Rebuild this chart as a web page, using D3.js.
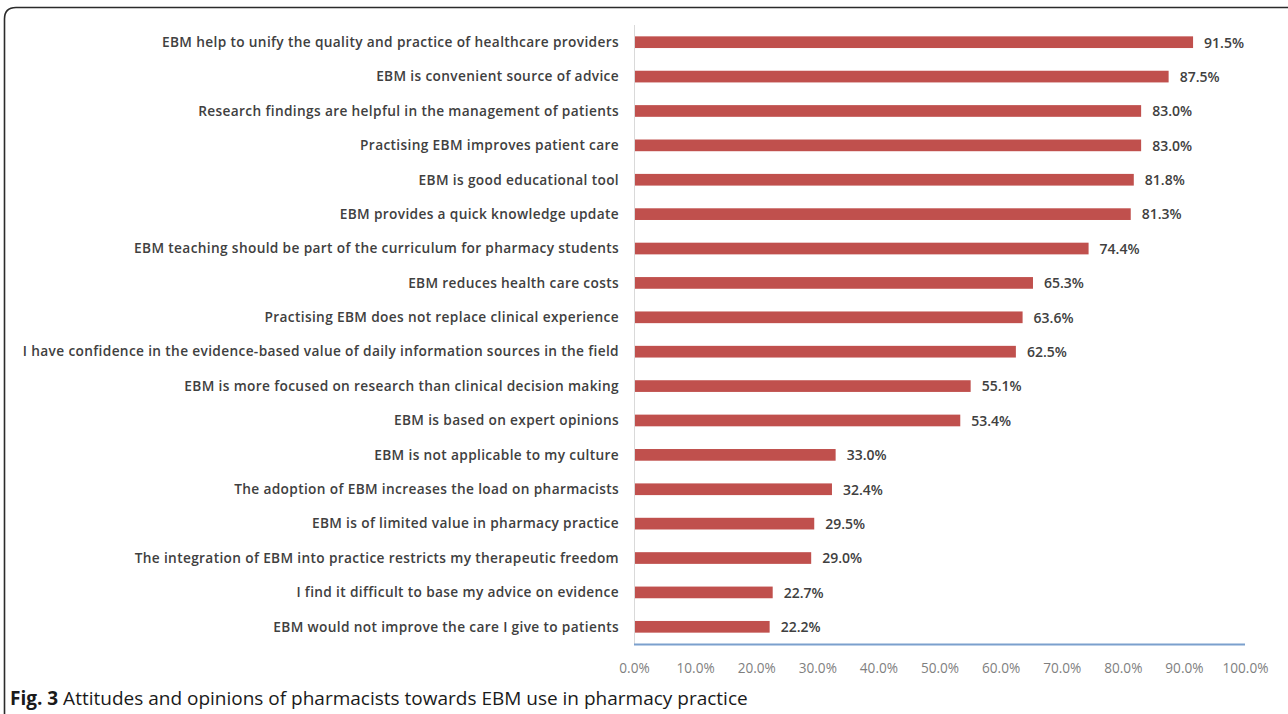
<!DOCTYPE html>
<html>
<head>
<meta charset="utf-8">
<script src="https://cdn.jsdelivr.net/npm/d3@7"></script>
<style>
  html, body { margin: 0; padding: 0; background: #fff; }
  svg { display: block; }
</style>
</head>
<body>
<svg id="chart" width="1288" height="714"></svg>
<script>
const categories = [
  "EBM help to unify the quality and practice of healthcare providers",
  "EBM is convenient source of advice",
  "Research findings are helpful in the management of patients",
  "Practising EBM improves patient care",
  "EBM is good educational tool",
  "EBM provides a quick knowledge update",
  "EBM teaching should be part of the curriculum for pharmacy students",
  "EBM reduces health care costs",
  "Practising EBM does not replace clinical experience",
  "I have confidence in the evidence-based value of daily information sources in the field",
  "EBM is more focused on research than clinical decision making",
  "EBM is based on expert opinions",
  "EBM is not applicable to my culture",
  "The adoption of EBM increases the load on pharmacists",
  "EBM is of limited value in pharmacy practice",
  "The integration of EBM into practice restricts my therapeutic freedom",
  "I find it difficult to base my advice on evidence",
  "EBM would not improve the care I give to patients"
];
const values = [91.5, 87.5, 83.0, 83.0, 81.8, 81.3, 74.4, 65.3, 63.6, 62.5, 55.1, 53.4, 33.0, 32.4, 29.5, 29.0, 22.7, 22.2];
const tickValues = [0, 10, 20, 30, 40, 50, 60, 70, 80, 90, 100];
const captionBold = "Fig. 3";
const captionText = " Attitudes and opinions of pharmacists towards EBM use in pharmacy practice";

const svg = d3.select("#chart");

// outer frame (open on right and bottom)
svg.append("path")
  .attr("d", "M4.5,714 L4.5,19 Q4.5,7.5 16,7.5 L1300,7.5")
  .attr("fill", "none")
  .attr("stroke", "#2b2b2b")
  .attr("stroke-width", 1.6);

const plotLeft = 634, plotRight = 1245, plotTop = 25, plotBottom = 644;

const x = d3.scaleLinear().domain([0, 100]).range([plotLeft, plotRight]);
const y = d3.scaleBand().domain(categories).range([plotTop, plotBottom])
  .paddingInner(0.66).paddingOuter(0.33);

// vertical axis line
svg.append("line")
  .attr("x1", plotLeft + 0.5).attr("x2", plotLeft + 0.5)
  .attr("y1", plotTop).attr("y2", plotBottom)
  .attr("stroke", "#d9d9d9").attr("stroke-width", 1);

// bars
svg.append("g").selectAll("rect")
  .data(categories)
  .join("rect")
  .attr("x", plotLeft + 1)
  .attr("y", d => y(d))
  .attr("width", (d, i) => x(values[i]) - plotLeft - 1)
  .attr("height", y.bandwidth())
  .attr("fill", "#c0504d");

// category labels
svg.append("g").selectAll("text")
  .data(categories)
  .join("text")
  .attr("x", plotLeft - 15)
  .attr("y", d => y(d) + y.bandwidth() / 2)
  .attr("dy", "0.35em")
  .attr("text-anchor", "end")
  .attr("font-family", "'Open Sans', sans-serif")
  .attr("font-weight", 600)
  .attr("font-size", "13.7px")
  .attr("letter-spacing", "0.35px")
  .attr("fill", "#404040")
  .text(d => d);

// value labels
svg.append("g").selectAll("text")
  .data(categories)
  .join("text")
  .attr("x", (d, i) => x(values[i]) + 11)
  .attr("y", d => y(d) + y.bandwidth() / 2)
  .attr("dy", "0.38em")
  .attr("font-family", "'Open Sans', sans-serif")
  .attr("font-weight", 600)
  .attr("font-size", "14px")
  .attr("fill", "#404040")
  .text((d, i) => values[i].toFixed(1) + "%");

// x axis
const xAxis = d3.axisBottom(x)
  .tickValues(tickValues)
  .tickSize(0)
  .tickPadding(19)
  .tickFormat(d => d.toFixed(1) + "%");
const gx = svg.append("g").attr("transform", `translate(0,${plotBottom})`).call(xAxis);
gx.select(".domain").attr("stroke", "#7ba0cd").attr("stroke-width", 2).attr("d", `M${plotLeft},0.5H${plotRight}`);
gx.selectAll("text")
  .attr("font-family", "'Open Sans', sans-serif")
  .attr("font-size", "13.6px")
  .attr("fill", "#7f7f7f");

// caption
const cap = svg.append("text")
  .attr("x", 10)
  .attr("y", 705)
  .attr("font-family", "'Open Sans', sans-serif")
  .attr("font-size", "19px")
  .attr("fill", "#1a1a1a");
cap.append("tspan").attr("font-weight", 700).text(captionBold);
cap.append("tspan").text(captionText);
</script>
</body>
</html>
